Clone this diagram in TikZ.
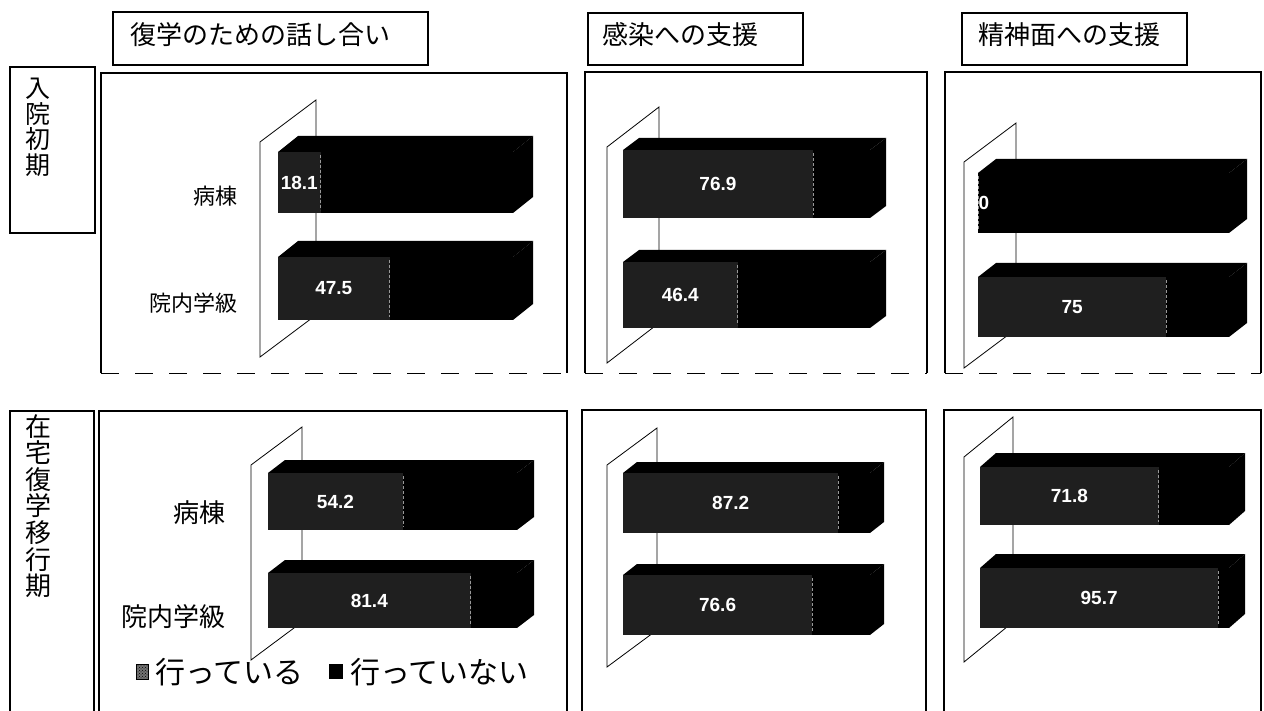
\documentclass[tikz,border=0pt]{standalone}
\usepackage{fontspec}
\setmainfont{Liberation Sans}
\newfontfamily\jp{Noto Sans CJK JP}
\usetikzlibrary{patterns}
\tikzset{
  frame/.style={draw=black, line width=1.3pt},
  framebot/.style={draw=black, line width=0.8pt, dash pattern=on 18pt off 16pt},
  titlebox/.style={draw=black, line width=1.3pt},
  titletext/.style={anchor=west, inner sep=0pt, font=\jp\fontsize{26}{26}\selectfont},
  rowtext/.style={anchor=north, inner sep=0pt, align=center},
  wall/.style={draw=black, line width=0.8pt, fill=white},
  barA/.style={fill=black!88},
  barB/.style={fill=black},
  segline/.style={draw=black!40, line width=0.7pt, dash pattern=on 3pt off 2pt},
  vallab/.style={text=white, inner sep=0pt, font=\bfseries\fontsize{19}{19}\selectfont},
  catlab/.style={anchor=east, inner sep=0pt},
  legtext/.style={anchor=west, inner sep=0pt, font=\jp\fontsize{30}{30}\selectfont}
}
% wall: front x, front top, front bottom, dx, dy
\newcommand\tdwall[5]{%
  \draw[wall] (#1,#2) -- (#1+#4,#2-#5) -- (#1+#4,#3-#5) -- (#1,#3) -- cycle;
}
% bar: x0, x1, ytop, ybot, dx, dy, fraction, label, name
\newcommand\tdbar[9]{%
  \pgfmathsetmacro\xbnd{#1+(#2-#1)*#7}%
  \pgfmathsetmacro\xmid{(#1+\xbnd)/2}%
  \pgfmathsetmacro\ymid{(#3+#4)/2}%
  \fill[barB] (#1,#3) -- (#1+#5,#3-#6) -- (#2+#5,#3-#6) -- (#2,#3) -- cycle;
  \fill[barB] (#2,#3) -- (#2+#5,#3-#6) -- (#2+#5,#4-#6) -- (#2,#4) -- cycle;
  \fill[barB] (#1,#3) rectangle (#2,#4);
  \fill[barA] (#1,#3) rectangle (\xbnd,#4);
  \draw[segline] (\xbnd,#3+3) -- (\xbnd,#4-3);
  \node[vallab] (#9) at (\xmid,\ymid) {#8};
}
\begin{document}
\begin{tikzpicture}[x=1pt,y=-1pt]
\useasboundingbox (0,0) rectangle (1264,711);
\fill[white] (0,0) rectangle (1264,711);

% title boxes
\draw[titlebox] (113,12) rectangle (428,65);
\node[titletext] (t1) at (130,35) {復学のための話し合い};
\draw[titlebox] (588,13) rectangle (803,65);
\node[titletext] (t2) at (602,35) {感染への支援};
\draw[titlebox] (962,13) rectangle (1187,65);
\node[titletext] (t3) at (978,35) {精神面への支援};

% row label boxes
\draw[frame] (10,67) rectangle (95,233);
\node[rowtext, font=\jp\fontsize{25}{25.5}\selectfont] (r1) at (38,78) {入\\院\\初\\期};
\draw[frame] (10,712) -- (10,411) -- (94,411) -- (94,712);
\node[rowtext, font=\jp\fontsize{26}{26.6}\selectfont] (r2) at (38,414) {在\\宅\\復\\学\\移\\行\\期};

% panels top row
\draw[frame] (101,373) -- (101,73) -- (567,73) -- (567,373);
\draw[framebot] (101,373) -- (567,373);
\draw[frame] (585,373) -- (585,72) -- (927,72) -- (927,373);
\draw[framebot] (585,373) -- (927,373);
\draw[frame] (945,373) -- (945,72) -- (1261,72) -- (1261,373);
\draw[framebot] (945,373) -- (1261,373);
% panels bottom row
\draw[frame] (99,712) -- (99,411) -- (567,411) -- (567,712);
\draw[frame] (582,712) -- (582,410) -- (926,410) -- (926,712);
\draw[frame] (944,712) -- (944,410) -- (1261,410) -- (1261,712);

% ---- top-left panel
\tdwall{260}{142}{357}{56}{42}
\tdbar{278}{513}{152}{213}{20}{16}{0.181}{18.1}{v11}
\tdbar{278}{513}{257}{320}{20}{16}{0.475}{47.5}{v12}
\node[catlab, font=\jp\fontsize{22}{22}\selectfont] (c11) at (238,196) {病棟};
\node[catlab, font=\jp\fontsize{22}{22}\selectfont] (c12) at (238,303) {院内学級};

% ---- top-middle panel
\tdwall{607}{147}{363}{52}{40}
\tdbar{623}{870}{150}{218}{16}{12}{0.769}{76.9}{v21}
\tdbar{623}{870}{262}{328}{16}{12}{0.464}{46.4}{v22}

% ---- top-right panel
\tdwall{964}{162}{368}{52}{39}
\tdbar{978}{1229}{173}{233}{18}{14}{0}{}{v31}
\node[vallab] (v31b) at (984,203) {0};
\tdbar{978}{1229}{277}{337}{18}{14}{0.75}{75}{v32}

% ---- bottom-left panel
\tdwall{251}{465}{660}{51}{38}
\tdbar{268}{517}{473}{530}{17}{13}{0.542}{54.2}{v41}
\tdbar{268}{517}{573}{628}{17}{13}{0.814}{81.4}{v42}
\node[catlab, font=\jp\fontsize{26}{26}\selectfont] (c41) at (226,513) {病棟};
\node[catlab, font=\jp\fontsize{26}{26}\selectfont] (c42) at (226,617) {院内学級};

% ---- bottom-middle panel
\tdwall{607}{465}{667}{50}{37}
\tdbar{623}{870}{473}{533}{14}{11}{0.872}{87.2}{v51}
\tdbar{623}{870}{575}{635}{14}{11}{0.766}{76.6}{v52}

% ---- bottom-right panel
\tdwall{964}{457}{662}{49}{40}
\tdbar{980}{1229}{467}{525}{16}{14}{0.718}{71.8}{v61}
\tdbar{980}{1229}{568}{628}{16}{14}{0.957}{95.7}{v62}

% legend
\fill[black!55] (136,664) rectangle (148,679);
\fill[pattern=crosshatch dots, pattern color=black] (136,664) rectangle (148,679);
\draw[line width=0.6pt] (136,664) rectangle (148,679);
\node[legtext] (l1) at (155,672) {行っている};
\fill[black] (329,664) rectangle (343,679);
\node[legtext] (l2) at (350,672) {行っていない};
\end{tikzpicture}
\end{document}
